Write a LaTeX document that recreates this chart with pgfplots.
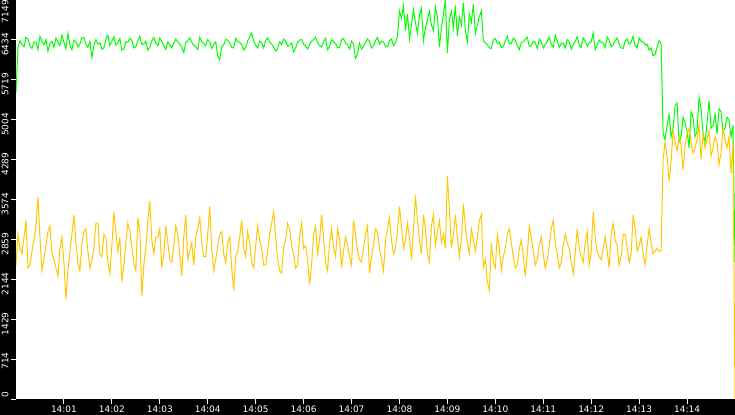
\documentclass[border=0pt]{standalone}
\usepackage{fontspec}
\setmainfont{DejaVu Sans}
\usepackage{pgfplots}
\pgfplotsset{compat=1.18}
\usepackage{pgfplotstable}

% one sample every 2.5 s from 14:00:00 to 14:15:00
\pgfplotstableread[row sep=\\]{
v\\
5500\\
6300\\6420\\6350\\6310\\6480\\6450\\6330\\6280\\6400\\6390\\
6260\\6500\\6410\\6350\\6440\\6230\\6370\\6410\\6300\\6470\\
6390\\6330\\6520\\6390\\6280\\6550\\6340\\6260\\6430\\6400\\
6310\\6360\\6470\\6480\\6350\\6300\\6410\\6120\\6330\\6440\\
6360\\6380\\6270\\6290\\6450\\6520\\6330\\6410\\6490\\6340\\
6380\\6460\\6250\\6270\\6400\\6390\\6460\\6430\\6290\\6310\\
6420\\6500\\6350\\6360\\6410\\6250\\6300\\6420\\6480\\6380\\
6330\\6470\\6410\\6330\\6260\\6400\\6350\\6290\\6380\\6450\\
6400\\6360\\6300\\6210\\6390\\6420\\6470\\6390\\6340\\6310\\
6260\\6480\\6400\\6370\\6330\\6440\\6400\\6280\\6350\\6400\\
6150\\6080\\6310\\6350\\6440\\6430\\6380\\6300\\6290\\6460\\
6400\\6390\\6350\\6250\\6300\\6420\\6480\\6560\\6410\\6340\\
6290\\6410\\6380\\6290\\6430\\6470\\6400\\6360\\6310\\6230\\
6280\\6400\\6350\\6450\\6410\\6320\\6340\\6380\\6220\\6290\\
6390\\6430\\6440\\6360\\6330\\6270\\6350\\6410\\6440\\6480\\
6390\\6330\\6310\\6400\\6460\\6260\\6320\\6440\\6400\\6370\\
6290\\6300\\6440\\6460\\6380\\6350\\6270\\6410\\6360\\6100\\
6190\\6380\\6270\\6320\\6390\\6450\\6410\\6290\\6330\\6420\\
6480\\6360\\6410\\6400\\6320\\6310\\6420\\6450\\6330\\6380\\
6500\\6950\\6820\\7050\\6600\\6900\\6450\\6700\\6980\\6750\\
6550\\6880\\7000\\6420\\6650\\6800\\6950\\6700\\6600\\7020\\
6850\\6300\\6650\\6900\\7149\\6200\\6800\\6950\\6650\\7050\\
6500\\6850\\6700\\7100\\6600\\6400\\6900\\6750\\7080\\6550\\
6700\\6850\\6950\\
6420\\6380\\6350\\6290\\6280\\6440\\6460\\6370\\6390\\6300\\
6310\\6420\\6500\\6360\\6370\\6470\\6430\\6330\\6260\\6390\\
6400\\6450\\6480\\6320\\6330\\6410\\6390\\6280\\6450\\6400\\
6290\\6350\\6410\\6480\\6360\\6300\\6520\\6410\\6300\\6370\\
6380\\6290\\6440\\6400\\6270\\6350\\6410\\6490\\6350\\6300\\
6470\\6410\\6320\\6380\\6400\\6560\\6260\\6340\\6430\\6390\\
6380\\6300\\6490\\6420\\6310\\6350\\6420\\6470\\6360\\6290\\
6280\\6410\\6450\\6360\\6390\\6500\\6330\\6290\\6470\\6410\\
6400\\6340\\6360\\6250\\6290\\6150\\6180\\6300\\6420\\6380\\
4750\\
4650\\4900\\5100\\4700\\4850\\5250\\5300\\4600\\4700\\5050\\
4950\\4800\\4500\\5150\\5050\\4700\\4800\\5400\\5200\\4750\\
4600\\4950\\5350\\4850\\4900\\5100\\4750\\5200\\5150\\4800\\
4850\\5050\\5000\\4700\\4900\\
2450\\
}\green

\pgfplotstableread[row sep=\\]{
v\\
2400\\
2950\\2700\\2600\\2900\\3200\\2350\\2400\\2650\\2850\\3100\\
3620\\2900\\2300\\2500\\2750\\3000\\3100\\2600\\2500\\2350\\
2200\\2700\\2900\\2450\\1780\\2300\\2650\\2950\\3300\\2800\\
2450\\2300\\2800\\3000\\3050\\2650\\2350\\2500\\2700\\3150\\
3150\\2600\\2550\\2950\\2900\\2450\\2250\\2750\\3350\\3000\\
2650\\2900\\2100\\2400\\2800\\3150\\3000\\2700\\2450\\2300\\
3250\\3000\\1850\\2400\\2700\\3200\\3550\\2850\\2600\\2900\\
2900\\3050\\2350\\2600\\3100\\2800\\2500\\2450\\2750\\3100\\
2950\\2600\\2200\\2900\\3300\\2500\\2650\\2800\\2400\\2900\\
3050\\3250\\2800\\2550\\2550\\2950\\3450\\2700\\2300\\2500\\
2750\\2950\\3000\\2600\\2450\\2800\\2900\\2350\\1950\\2550\\
2650\\2900\\3200\\2700\\2550\\3000\\2800\\2450\\2350\\2750\\
3100\\2850\\2700\\2400\\2400\\2650\\2950\\3150\\3350\\2900\\
2500\\2300\\2250\\2700\\2850\\3150\\3050\\2750\\2600\\2350\\
2400\\2900\\3150\\2700\\2750\\2500\\2050\\2400\\2950\\3100\\
2600\\2850\\3300\\2900\\2450\\2300\\2800\\3050\\2700\\2550\\
3050\\2850\\2350\\2650\\2900\\2750\\2550\\2400\\3200\\2950\\
2650\\2500\\2450\\2700\\2950\\3100\\2250\\2550\\2750\\3050\\
3000\\2700\\2500\\2300\\2850\\3050\\3250\\2850\\2600\\2700\\
3000\\3450\\3100\\2700\\2850\\3150\\2900\\2500\\3050\\3650\\
3200\\2850\\2600\\3300\\3050\\2600\\2450\\3100\\3300\\2750\\
3000\\3200\\2800\\2950\\2700\\4000\\3400\\2700\\2950\\3300\\
2900\\2550\\2850\\3500\\3100\\2800\\2600\\3050\\2850\\2650\\
2900\\3200\\3300\\2350\\2500\\2100\\1950\\2800\\2450\\2350\\
2950\\2700\\2300\\2550\\2700\\2950\\3050\\2800\\2550\\2350\\
2400\\2700\\2850\\2550\\2200\\2600\\3100\\2900\\2650\\2400\\
2500\\2750\\2900\\2600\\2350\\2500\\2750\\3050\\3200\\2800\\
2600\\2350\\2450\\2750\\2950\\2800\\2700\\2450\\2250\\2600\\
3050\\2700\\2550\\2450\\2800\\3000\\2400\\2650\\3350\\2900\\
2650\\2550\\2500\\2700\\2900\\2650\\2350\\2950\\3150\\2850\\
2750\\2400\\2550\\2950\\2950\\2700\\2450\\2600\\3300\\3050\\
2650\\2750\\2900\\2600\\2400\\2750\\3050\\2800\\2600\\2650\\
2700\\2650\\
2650\\
4300\\
4600\\4350\\3900\\4250\\4800\\4600\\4450\\4700\\4550\\4100\\
4550\\4750\\4850\\4600\\4400\\4500\\4650\\4900\\4300\\4750\\
4500\\4650\\4800\\4350\\4500\\4700\\4600\\4200\\4400\\4850\\
4650\\4500\\4700\\4050\\4600\\
0\\
}\yellow

\definecolor{lime}{RGB}{0,255,0}
\definecolor{amber}{RGB}{255,200,0}

\begin{document}
\begin{tikzpicture}
\fill[black] (-16bp,-16bp) rectangle (719bp,399bp);
\begin{axis}[
    at={(0,0)}, anchor=south west,
    scale only axis,
    width=719bp, height=399bp,
    xmin=0, xmax=900,
    ymin=0, ymax=7149,
    axis background/.style={fill=white},
    axis line style={draw=none},
    tick style={white, line width=1bp},
    major tick length=5bp,
    tick align=outside,
    xtick={60,120,180,240,300,360,420,480,540,600,660,720,780,840},
    xticklabels={14:01,14:02,14:03,14:04,14:05,14:06,14:07,14:08,14:09,14:10,14:11,14:12,14:13,14:14},
    ytick={0,714.9,1429.8,2144.7,2859.6,3574.5,4289.4,5004.3,5719.2,6434.1},
    yticklabels={0,714,1429,2144,2859,3574,4289,5004,5719,6434},
    extra y ticks={7149},
    extra y tick labels={7149},
    extra y tick style={yticklabel style={xshift=-7bp}},
    /pgf/number format/assume math mode=true,
    ticklabel style={font=\fontsize{9}{9}\selectfont, text=white, inner sep=0pt},
    xticklabel style={anchor=north, yshift=-2bp},
    yticklabel style={xshift=-6bp, yshift=7bp, rotate=90, anchor=east},
]
\addplot[lime, line width=1bp, no marks] table[x expr=\coordindex*2.5, y=v] {\green};
\addplot[amber, line width=1bp, no marks] table[x expr=\coordindex*2.5, y=v] {\yellow};
\end{axis}
\pgfresetboundingbox
\path[use as bounding box] (-16bp,-16bp) rectangle (719bp,399bp);
\end{tikzpicture}
\end{document}
